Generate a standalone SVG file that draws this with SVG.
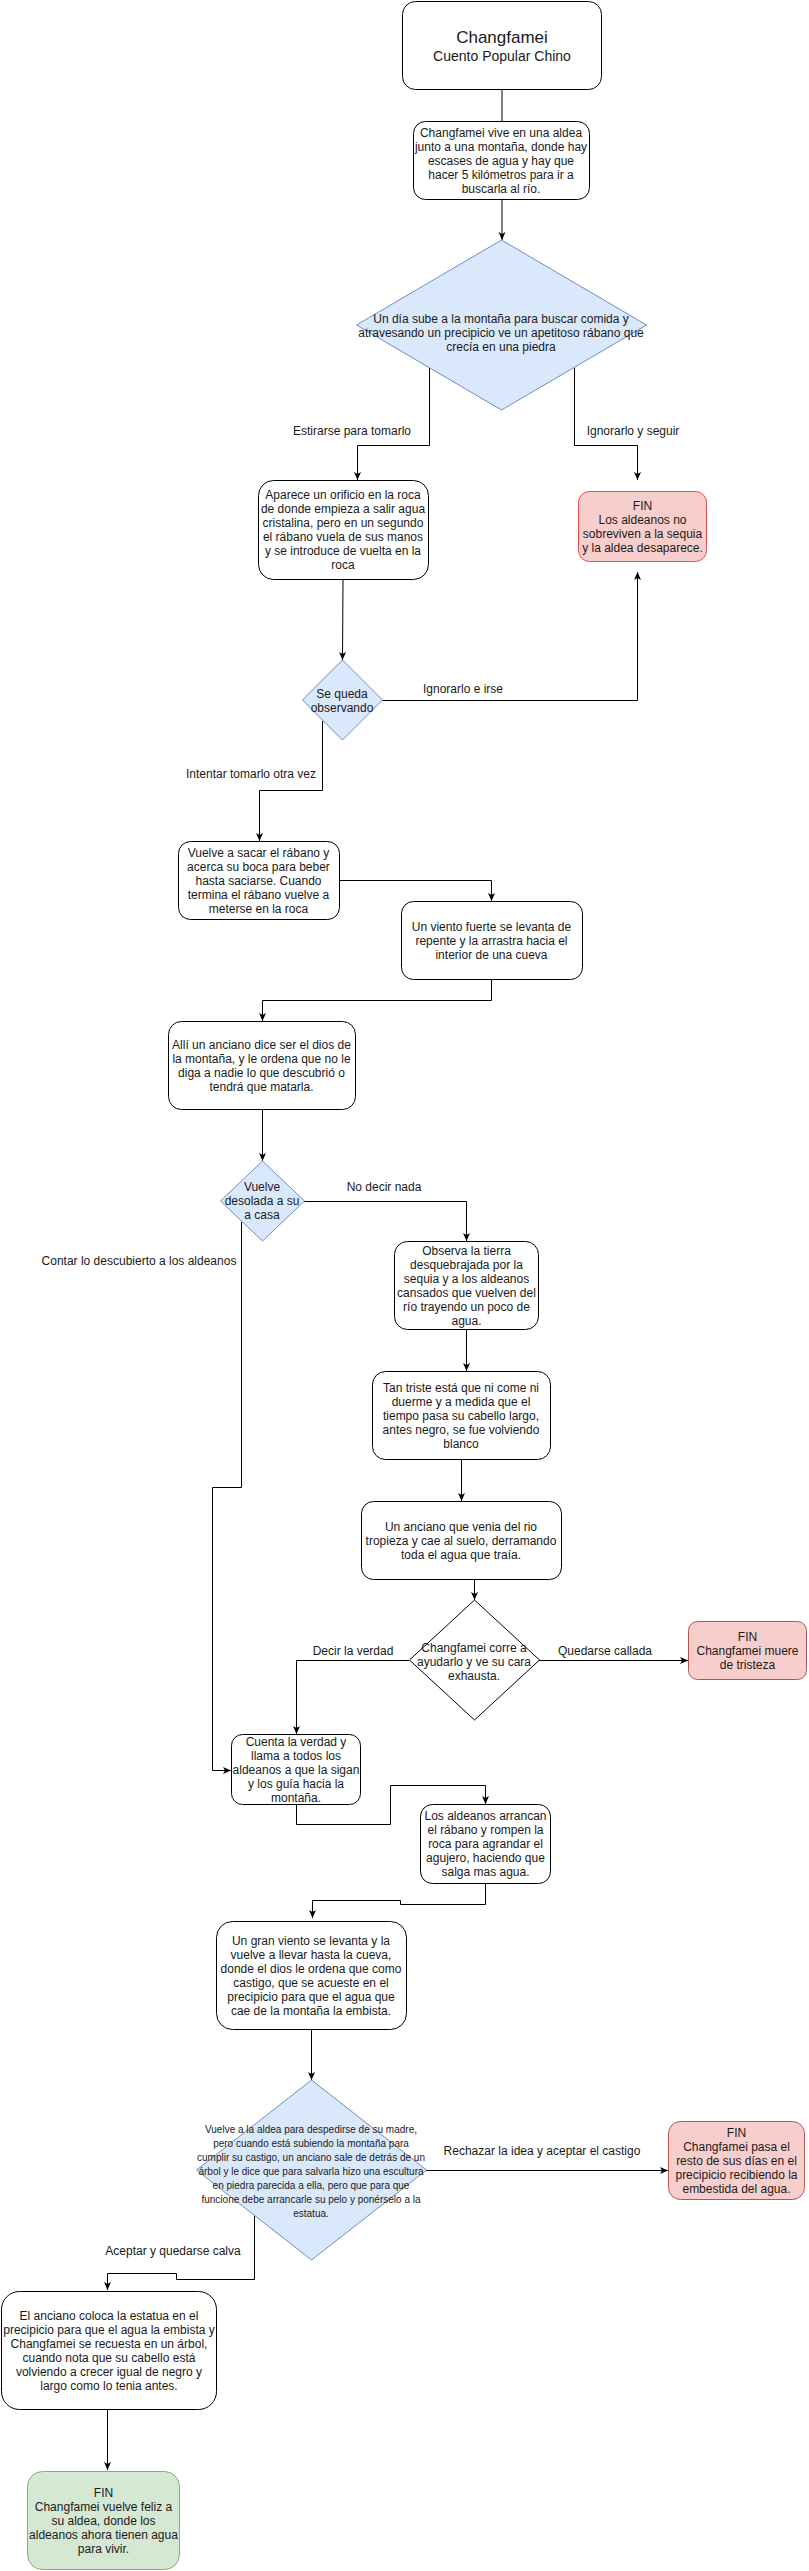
<svg xmlns="http://www.w3.org/2000/svg" width="809" height="2571" viewBox="0 0 809 2571">
<defs>
<style>
.box{fill:#ffffff;stroke:#000000;stroke-width:1}
.blue{fill:#dae8fc;stroke:#6c8ebf;stroke-width:1}
.dia{fill:#ffffff;stroke:#000000;stroke-width:1}
.red{fill:#f8cecc;stroke:#b85450;stroke-width:1}
.red1{fill:#f8cecc;stroke:#ea4c4c;stroke-width:1}
.green{fill:#d5e8d4;stroke:#82b366;stroke-width:1}
text{font-family:"Liberation Sans",Arial,Helvetica,sans-serif;font-size:12px;fill:#1a1a1a;text-anchor:middle}
.small{font-size:10px}
.edge{fill:none;stroke:#000000;stroke-width:1}
</style>
<marker id="arr" markerUnits="userSpaceOnUse" markerWidth="9" markerHeight="9" viewBox="0 0 9 9" refX="8.5" refY="4.5" orient="auto">
<path d="M0.5,1 L8.5,4.5 L0.5,8 L2.5,4.5 Z" fill="#000000"/>
</marker>
</defs>
<rect width="809" height="2571" fill="#ffffff"/>

<g id="connectors">
<path class="edge" d="M502,90 L502,121"/>
<path class="edge" d="M502,200 L502,240" marker-end="url(#arr)"/>
<path class="edge" d="M429.5,368 L429.5,445.5 L357.5,445.5 L357.5,480" marker-end="url(#arr)"/>
<path class="edge" d="M574.5,368 L574.5,445.5 L637.5,445.5 L637.5,480" marker-end="url(#arr)"/>
<path class="edge" d="M343,580 L342.5,660" marker-end="url(#arr)"/>
<path class="edge" d="M382,700.5 L637.5,700.5 L637.5,572" marker-end="url(#arr)"/>
<path class="edge" d="M322.5,721 L322.5,790.5 L259.5,790.5 L259.5,841" marker-end="url(#arr)"/>
<path class="edge" d="M339,880.5 L491.5,880.5 L491.5,901" marker-end="url(#arr)"/>
<path class="edge" d="M491.5,980 L491.5,1000.5 L262.5,1000.5 L262.5,1021" marker-end="url(#arr)"/>
<path class="edge" d="M262.5,1110 L262.5,1161" marker-end="url(#arr)"/>
<path class="edge" d="M304,1201.5 L466.5,1201.5 L466.5,1241" marker-end="url(#arr)"/>
<path class="edge" d="M241.5,1222 L241.5,1487.5 L212.5,1487.5 L212.5,1770.5 L231,1770.5" marker-end="url(#arr)"/>
<path class="edge" d="M466.5,1330 L466.5,1371" marker-end="url(#arr)"/>
<path class="edge" d="M461.5,1460 L461.5,1501" marker-end="url(#arr)"/>
<path class="edge" d="M474.5,1580 L474.5,1600" marker-end="url(#arr)"/>
<path class="edge" d="M409,1660.5 L296.5,1660.5 L296.5,1734" marker-end="url(#arr)"/>
<path class="edge" d="M539,1660.5 L688,1660.5" marker-end="url(#arr)"/>
<path class="edge" d="M296.5,1805 L296.5,1824.5 L390.5,1824.5 L390.5,1785.5 L485.5,1785.5 L485.5,1804" marker-end="url(#arr)"/>
<path class="edge" d="M485.5,1884 L485.5,1904.5 L400.5,1904.5 L400.5,1900.5 L312.5,1900.5 L312.5,1918" marker-end="url(#arr)"/>
<path class="edge" d="M311.5,2030 L311.5,2080" marker-end="url(#arr)"/>
<path class="edge" d="M426,2170.5 L668,2170.5" marker-end="url(#arr)"/>
<path class="edge" d="M254.5,2214 L254.5,2279.5 L176.5,2279.5 L176.5,2273.5 L107.5,2273.5 L107.5,2290" marker-end="url(#arr)"/>
<path class="edge" d="M107.5,2410 L107.5,2470" marker-end="url(#arr)"/>
<g id="edge-labels">
<text x="352" y="435">Estirarse para tomarlo</text>
<text x="633" y="435">Ignorarlo y seguir</text>
<text x="463" y="693">Ignorarlo e irse</text>
<text x="251" y="778">Intentar tomarlo otra vez</text>
<text x="384" y="1191">No decir nada</text>
<text x="139" y="1265">Contar lo descubierto a los aldeanos</text>
<text x="353" y="1655">Decir la verdad</text>
<text x="605" y="1655">Quedarse callada</text>
<text x="542" y="2155">Rechazar la idea y aceptar el castigo</text>
<text x="173" y="2255">Aceptar y quedarse calva</text>
</g>
</g>

<g id="n-title">
<rect class="box" x="402.5" y="1.5" width="199" height="88" rx="13"/>
<text x="502" y="43" style="font-size:17px">Changfamei</text>
<text x="502" y="61" style="font-size:14px">Cuento Popular Chino</text>
</g>

<g id="n-aldea">
<rect class="box" x="413.5" y="121.5" width="176" height="78" rx="12"/>
<text x="501"><tspan x="501" y="136.5">Changfamei vive en una aldea</tspan><tspan x="501" y="150.5">junto a una montaña, donde hay</tspan><tspan x="501" y="164.5">escases de agua y hay que</tspan><tspan x="501" y="178.5">hacer 5 kilómetros para ir a</tspan><tspan x="501" y="192.5">buscarla al río.</tspan></text>
</g>

<g id="d-montana">
<polygon class="blue" points="501.5,240 646.5,325 501.5,410 356.5,325"/>
<text x="501"><tspan x="501" y="323">Un día sube a la montaña para buscar comida y</tspan><tspan x="501" y="337">atravesando un precipicio ve un apetitoso rábano que</tspan><tspan x="501" y="351">crecía en una piedra</tspan></text>
</g>

<g id="n-orificio">
<rect class="box" x="258.5" y="480.5" width="170" height="99" rx="15"/>
<text x="343"><tspan x="343" y="499">Aparece un orificio en la roca</tspan><tspan x="343" y="513">de donde empieza a salir agua</tspan><tspan x="343" y="527">cristalina, pero en un segundo</tspan><tspan x="343" y="541">el rábano vuela de sus manos</tspan><tspan x="343" y="555">y se introduce de vuelta en la</tspan><tspan x="343" y="569">roca</tspan></text>
</g>

<g id="fin-sequia">
<rect class="red1" x="578.5" y="491.5" width="128" height="70" rx="11"/>
<text x="642.5"><tspan x="642.5" y="509.5">FIN</tspan><tspan x="642.5" y="523.5">Los aldeanos no</tspan><tspan x="642.5" y="537.5">sobreviven a la sequia</tspan><tspan x="642.5" y="551.5">y la aldea desaparece.</tspan></text>
</g>

<g id="d-observando">
<polygon class="blue" points="342.5,660 382.5,700 342.5,740 302.5,700"/>
<text x="342"><tspan x="342" y="697.5">Se queda</tspan><tspan x="342" y="711.5">observando</tspan></text>
</g>

<g id="n-saciarse">
<rect class="box" x="178.5" y="841.5" width="161" height="78" rx="12"/>
<text x="258.5"><tspan x="258.5" y="856.5">Vuelve a sacar el rábano y</tspan><tspan x="258.5" y="870.5">acerca su boca para beber</tspan><tspan x="258.5" y="884.5">hasta saciarse. Cuando</tspan><tspan x="258.5" y="898.5">termina el rábano vuelve a</tspan><tspan x="258.5" y="912.5">meterse en la roca</tspan></text>
</g>

<g id="n-viento">
<rect class="box" x="401.5" y="901.5" width="181" height="78" rx="12"/>
<text x="491.5"><tspan x="491.5" y="930.5">Un viento fuerte se levanta de</tspan><tspan x="491.5" y="944.5">repente y la arrastra hacia el</tspan><tspan x="491.5" y="958.5">interior de una cueva</tspan></text>
</g>

<g id="n-dios">
<rect class="box" x="168.5" y="1021.5" width="187" height="88" rx="13"/>
<text x="261.5"><tspan x="261.5" y="1048.5">Allí un anciano dice ser el dios de</tspan><tspan x="261.5" y="1062.5">la montaña, y le ordena que no le</tspan><tspan x="261.5" y="1076.5">diga a nadie lo que descubrió o</tspan><tspan x="261.5" y="1090.5">tendrá que matarla.</tspan></text>
</g>

<g id="d-desolada">
<polygon class="blue" points="262.5,1161 304.5,1201 262.5,1241 220.5,1201"/>
<text x="262"><tspan x="262" y="1191">Vuelve</tspan><tspan x="262" y="1205">desolada a su</tspan><tspan x="262" y="1219">a casa</tspan></text>
</g>

<g id="n-tierra">
<rect class="box" x="394.5" y="1241.5" width="144" height="88" rx="13"/>
<text x="466.5"><tspan x="466.5" y="1254.5">Observa la tierra</tspan><tspan x="466.5" y="1268.5">desquebrajada por la</tspan><tspan x="466.5" y="1282.5">sequia y a los aldeanos</tspan><tspan x="466.5" y="1296.5">cansados que vuelven del</tspan><tspan x="466.5" y="1310.5">río trayendo un poco de</tspan><tspan x="466.5" y="1324.5">agua.</tspan></text>
</g>

<g id="n-triste">
<rect class="box" x="372.5" y="1371.5" width="178" height="88" rx="13"/>
<text x="461"><tspan x="461" y="1391.5">Tan triste está que ni come ni</tspan><tspan x="461" y="1405.5">duerme y a medida que el</tspan><tspan x="461" y="1419.5">tiempo pasa su cabello largo,</tspan><tspan x="461" y="1433.5">antes negro, se fue volviendo</tspan><tspan x="461" y="1447.5">blanco</tspan></text>
</g>

<g id="n-anciano-rio">
<rect class="box" x="361.5" y="1501.5" width="200" height="78" rx="12"/>
<text x="461"><tspan x="461" y="1530.5">Un anciano que venia del rio</tspan><tspan x="461" y="1544.5">tropieza y cae al suelo, derramando</tspan><tspan x="461" y="1558.5">toda el agua que traía.</tspan></text>
</g>

<g id="d-ayudarlo">
<polygon class="dia" points="474.5,1600 539.5,1660 474.5,1720 409.5,1660"/>
<text x="474"><tspan x="474" y="1652">Changfamei corre a</tspan><tspan x="474" y="1666">ayudarlo y ve su cara</tspan><tspan x="474" y="1680">exhausta.</tspan></text>
</g>

<g id="fin-tristeza">
<rect class="red" x="688.5" y="1621.5" width="118" height="58" rx="9"/>
<text x="747.5"><tspan x="747.5" y="1640.5">FIN</tspan><tspan x="747.5" y="1654.5">Changfamei muere</tspan><tspan x="747.5" y="1668.5">de tristeza</tspan></text>
</g>

<g id="n-verdad">
<rect class="box" x="231.5" y="1734.5" width="129" height="70" rx="11"/>
<text x="296"><tspan x="296" y="1745.5">Cuenta la verdad y</tspan><tspan x="296" y="1759.5">llama a todos los</tspan><tspan x="296" y="1773.5">aldeanos a que la sigan</tspan><tspan x="296" y="1787.5">y los guía hacia la</tspan><tspan x="296" y="1801.5">montaña.</tspan></text>
</g>

<g id="n-arrancan">
<rect class="box" x="420.5" y="1804.5" width="130" height="79" rx="12"/>
<text x="485.5"><tspan x="485.5" y="1820">Los aldeanos arrancan</tspan><tspan x="485.5" y="1834">el rábano y rompen la</tspan><tspan x="485.5" y="1848">roca para agrandar el</tspan><tspan x="485.5" y="1862">agujero, haciendo que</tspan><tspan x="485.5" y="1876">salga mas agua.</tspan></text>
</g>

<g id="n-castigo">
<rect class="box" x="216.5" y="1921.5" width="190" height="108" rx="16"/>
<text x="311"><tspan x="311" y="1944.5">Un gran viento se levanta y la</tspan><tspan x="311" y="1958.5">vuelve a llevar hasta la cueva,</tspan><tspan x="311" y="1972.5">donde el dios le ordena que como</tspan><tspan x="311" y="1986.5">castigo, que se acueste en el</tspan><tspan x="311" y="2000.5">precipicio para que el agua que</tspan><tspan x="311" y="2014.5">cae de la montaña la embista.</tspan></text>
</g>

<g id="d-estatua">
<polygon class="blue" points="311.5,2080 426.5,2170 311.5,2260 196.5,2170"/>
<text class="small" x="311"><tspan x="311" y="2133">Vuelve a la aldea para despedirse de su madre,</tspan><tspan x="311" y="2147">pero cuando está subiendo la montaña para</tspan><tspan x="311" y="2161">cumplir su castigo, un anciano sale de detrás de un</tspan><tspan x="311" y="2175">árbol y le dice que para salvarla hizo una escultura</tspan><tspan x="311" y="2189">en piedra parecida a ella, pero que para que</tspan><tspan x="311" y="2203">funcione debe arrancarle su pelo y ponérselo a la</tspan><tspan x="311" y="2217">estatua.</tspan></text>
</g>

<g id="fin-precipicio">
<rect class="red" x="668.5" y="2121.5" width="136" height="78" rx="12"/>
<text x="736.5"><tspan x="736.5" y="2136.5">FIN</tspan><tspan x="736.5" y="2150.5">Changfamei pasa el</tspan><tspan x="736.5" y="2164.5">resto de sus días en el</tspan><tspan x="736.5" y="2178.5">precipicio recibiendo la</tspan><tspan x="736.5" y="2192.5">embestida del agua.</tspan></text>
</g>

<g id="n-estatua">
<rect class="box" x="1.5" y="2291.5" width="215" height="118" rx="18"/>
<text x="109"><tspan x="109" y="2319.5">El anciano coloca la estatua en el</tspan><tspan x="109" y="2333.5">precipicio para que el agua la embista y</tspan><tspan x="109" y="2347.5">Changfamei se recuesta en un árbol,</tspan><tspan x="109" y="2361.5">cuando nota que su cabello está</tspan><tspan x="109" y="2375.5">volviendo a crecer igual de negro y</tspan><tspan x="109" y="2389.5">largo como lo tenia antes.</tspan></text>
</g>

<g id="fin-feliz">
<rect class="green" x="27.5" y="2471.5" width="152" height="98" rx="15"/>
<text x="103.5"><tspan x="103.5" y="2496.5">FIN</tspan><tspan x="103.5" y="2510.5">Changfamei vuelve feliz a</tspan><tspan x="103.5" y="2524.5">su aldea, donde los</tspan><tspan x="103.5" y="2538.5">aldeanos ahora tienen agua</tspan><tspan x="103.5" y="2552.5">para vivir.</tspan></text>
</g>
</svg>
